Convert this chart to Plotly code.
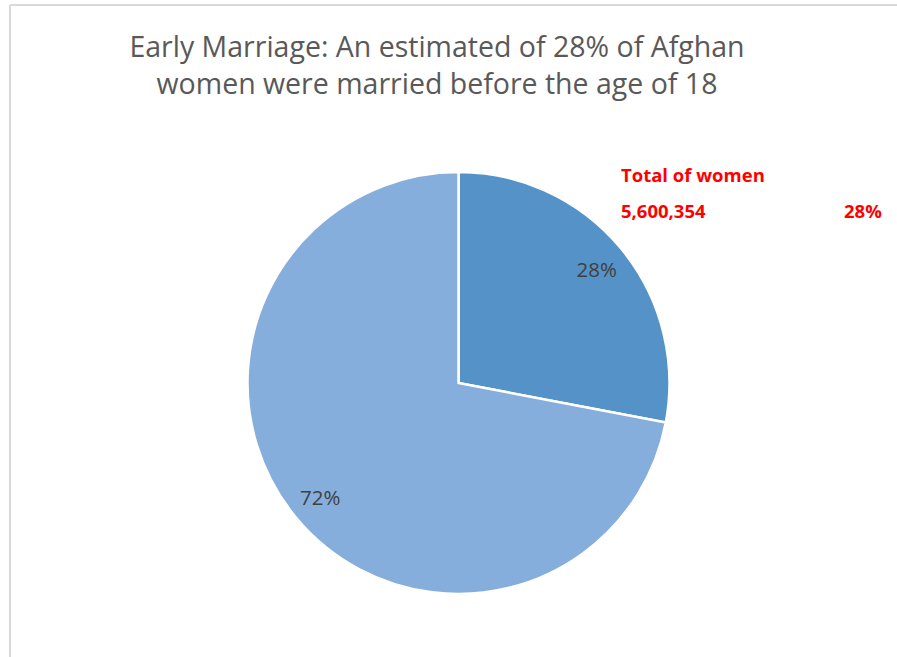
import plotly.graph_objects as go

# ---- data ----
categories = ["Married before 18", "Not married before 18"]
shares = [28, 72]
slice_colors = ["#5592C8", "#85AEDC"]
title_lines = ["Early Marriage: An estimated of 28% of Afghan",
               "women were married before the age of 18"]
note_title = "Total of women"
note_total = "5,600,354"
note_share = "28%"

W, H = 897, 657
cx, cy, R = 458.5, 383.0, 211.0  # pie placement in pixels (top-left origin)

dom_x = [(cx - R) / W, (cx + R) / W]
dom_y = [(H - (cy + R)) / H, (H - (cy - R)) / H]

fig = go.Figure()

# main pie
fig.add_trace(go.Pie(
    labels=categories, values=shares, sort=False, direction="clockwise",
    rotation=0, marker=dict(colors=slice_colors, line=dict(color="white", width=2.5)),
    textinfo="none", hoverinfo="label+percent", showlegend=False,
    domain=dict(x=dom_x, y=dom_y),
))

# transparent ring only used to place the percentage labels near the rim
fig.add_trace(go.Pie(
    labels=categories, values=shares, sort=False, direction="clockwise",
    rotation=0, hole=0.7,
    marker=dict(colors=["rgba(0,0,0,0)"] * 2, line=dict(width=0)),
    textinfo="percent", textposition="inside", insidetextorientation="horizontal",
    textfont=dict(family="Open Sans", size=20.5, color="#404040"),
    hoverinfo="skip", showlegend=False,
    domain=dict(x=dom_x, y=dom_y),
))

red = "#FF0000"
fig.add_annotation(x=619 / W, y=1 - 175 / H, xref="paper", yref="paper",
                   text="<b>%s</b>" % note_title, showarrow=False, xanchor="left", yanchor="middle",
                   font=dict(family="Open Sans", size=18.5, color=red))
fig.add_annotation(x=619 / W, y=1 - 210 / H, xref="paper", yref="paper",
                   text="<b>%s</b>" % note_total, showarrow=False, xanchor="left", yanchor="middle",
                   font=dict(family="Open Sans", size=18.5, color=red))
fig.add_annotation(x=884 / W, y=1 - 210 / H, xref="paper", yref="paper",
                   text="<b>%s</b>" % note_share, showarrow=False, xanchor="right", yanchor="middle",
                   font=dict(family="Open Sans", size=18.5, color=red))

# chart frame (left and top edges visible)
fig.add_shape(type="line", xref="paper", yref="paper", x0=10 / W, x1=1.02, y0=1 - 5 / H, y1=1 - 5 / H,
              line=dict(color="#D9D9D9", width=2))
fig.add_shape(type="line", xref="paper", yref="paper", x0=10 / W, x1=10 / W, y0=-0.02, y1=1 - 5 / H,
              line=dict(color="#D9D9D9", width=2))

fig.update_layout(
    width=W, height=H,
    margin=dict(l=0, r=0, t=0, b=0),
    paper_bgcolor="white", plot_bgcolor="white",
    title=dict(text="<br>".join(title_lines), x=437 / W, xanchor="center",
               y=1 - 57 / H, yanchor="middle",
               font=dict(family="Open Sans", size=28.5, color="#595959")),
)

fig.write_html("out.html", config={"displayModeBar": False},
               post_script="document.body.style.margin='0';")
